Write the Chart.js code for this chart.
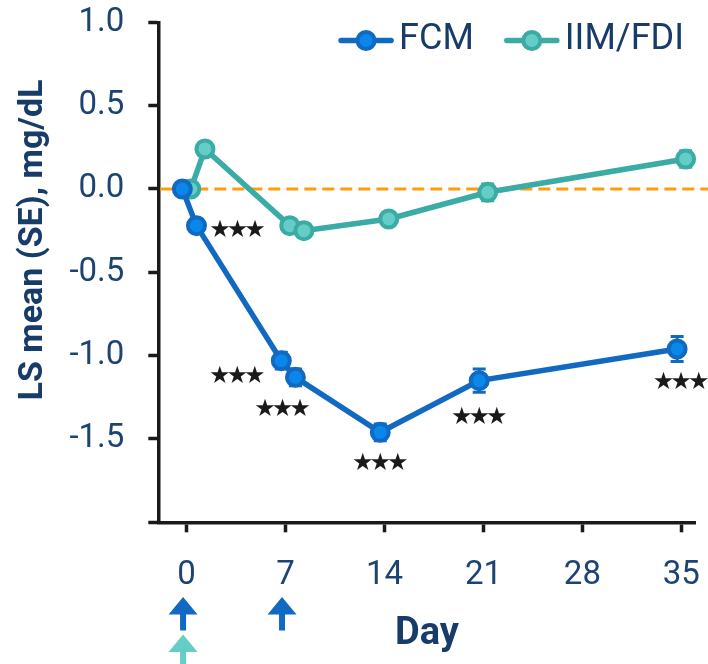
<!DOCTYPE html>
<html>
<head>
<meta charset="utf-8">
<script src="https://cdn.jsdelivr.net/npm/chart.js@4.4.1/dist/chart.umd.min.js"></script>
<style>
  html, body { margin: 0; padding: 0; background: #ffffff; }
  #wrap { width: 708px; height: 664px; }
</style>
</head>
<body>
<div id="wrap"><canvas id="c" width="708" height="664"></canvas></div>
<script>
// Study visit days and least-squares mean change (SE) per treatment arm
const days = [0, 1, 7, 8, 14, 21, 35];
const fcmMean = [0.00, -0.22, -1.03, -1.13, -1.46, -1.15, -0.96];
const fcmSE   = [0.00, 0.04, 0.05, 0.05, 0.05, 0.07, 0.075];
const iimMean = [0.00, 0.24, -0.22, -0.25, -0.18, -0.02, 0.18];
const iimSE   = [0.00, 0.04, 0.04, 0.04, 0.04, 0.05, 0.05];
const fcmSignif = ['', '★★★', '★★★', '★★★', '★★★', '★★★', '★★★'];
const seriesNames = ['FCM', 'IIM/FDI'];
const xTickValues = [0, 7, 14, 21, 28, 35];
const yTickValues = [-2, -1.5, -1, -0.5, 0, 0.5, 1];
const fcmDoseDays = [0, 7];
const iimDoseDays = [0];
const yTitle = 'LS mean (SE), mg/dL';
const xTitle = 'Day';

const NAVY = '#1d4373';
const NAVY_DARK = '#183c69';
const AXIS = '#1a1a1a';
const FCM_LINE = '#1169c2';
const FCM_FILL = '#0a87ea';
const IIM_LINE = '#3aaba5';
const IIM_FILL = '#64cdc5';
const DODGE = 0.3;   // horizontal offset (days) so the two arms do not overlap

// placement of the significance marks relative to each FCM point (px)
const signifOffset = [null, [41, 5], [-44, 16], [-13, 32], [0, 31], [0, 37], [4, 34]];

function toPoints(means, shift) {
  return days.map((d, i) => ({ x: d + shift, y: means[i] }));
}

const decorations = {
  id: 'decorations',
  beforeDatasetsDraw(chart) {
    const { ctx, chartArea, scales: { x, y } } = chart;
    // dashed zero reference line
    const y0 = y.getPixelForValue(0);
    ctx.save();
    ctx.strokeStyle = '#ff9c0a';
    ctx.lineWidth = 3;
    ctx.setLineDash([12, 6]);
    ctx.beginPath();
    ctx.moveTo(chartArea.left + 2, y0);
    ctx.lineTo(chart.width, y0);
    ctx.stroke();
    ctx.restore();

    // standard-error bars
    chart.data.datasets.forEach((ds, i) => {
      const meta = chart.getDatasetMeta(i);
      ds.se.forEach((s, j) => {
        if (!s) return;
        const px = meta.data[j].x;
        const v = ds.data[j].y;
        const top = y.getPixelForValue(v + s);
        const bot = y.getPixelForValue(v - s);
        ctx.save();
        ctx.strokeStyle = ds.borderColor;
        ctx.lineWidth = 3;
        ctx.beginPath();
        ctx.moveTo(px, top); ctx.lineTo(px, bot);
        ctx.moveTo(px - 6.5, top); ctx.lineTo(px + 6.5, top);
        ctx.moveTo(px - 6.5, bot); ctx.lineTo(px + 6.5, bot);
        ctx.stroke();
        ctx.restore();
      });
    });
  },
  afterDatasetsDraw(chart) {
    const { ctx } = chart;
    const meta = chart.getDatasetMeta(0);
    ctx.save();
    ctx.fillStyle = '#1a1a1a';
    ctx.font = '24px "DejaVu Sans"';
    ctx.letterSpacing = '-4px';
    ctx.textAlign = 'center';
    ctx.textBaseline = 'middle';
    fcmSignif.forEach((txt, j) => {
      if (!txt) return;
      const p = meta.data[j];
      const off = signifOffset[j];
      ctx.fillText(txt, p.x + off[0] - 2, p.y + off[1]);
    });
    ctx.restore();
  },
  afterDraw(chart) {
    const { ctx, scales: { x } } = chart;
    ctx.save();

    // legend: line + marker sample followed by the series name
    ctx.font = '36px Roboto';
    ctx.textBaseline = 'middle';
    ctx.textAlign = 'left';
    const sampleW = 56, gap = 5, itemGap = 30;
    const widths = seriesNames.map(n => ctx.measureText(n).width);
    let total = 0;
    widths.forEach((w, i) => { total += sampleW + gap + w + (i ? itemGap : 0); });
    let cx = 684 - total;
    const ly = 40.5;
    chart.data.datasets.forEach((ds, i) => {
      if (i) cx += itemGap;
      ctx.strokeStyle = ds.borderColor;
      ctx.lineWidth = 5.5;
      ctx.lineCap = 'round';
      ctx.beginPath();
      ctx.moveTo(cx + 3, ly); ctx.lineTo(cx + sampleW - 3, ly);
      ctx.stroke();
      ctx.beginPath();
      ctx.arc(cx + sampleW / 2, ly, 8.5, 0, Math.PI * 2);
      ctx.fillStyle = ds.pointBackgroundColor;
      ctx.fill();
      ctx.lineWidth = 4;
      ctx.strokeStyle = ds.pointBorderColor;
      ctx.stroke();
      cx += sampleW + gap;
      ctx.fillStyle = NAVY_DARK;
      ctx.fillText(seriesNames[i], cx, ly - 1);
      cx += widths[i];
    });

    // vertical axis title
    ctx.save();
    ctx.translate(33, 240);
    ctx.rotate(-Math.PI / 2);
    ctx.font = 'bold 34px Roboto';
    ctx.fillStyle = NAVY_DARK;
    ctx.textAlign = 'center';
    ctx.textBaseline = 'middle';
    ctx.fillText(yTitle, 0, 0);
    ctx.restore();

    // dosing arrows under the day axis
    function arrow(px, tipY, color) {
      ctx.fillStyle = color;
      ctx.beginPath();
      ctx.moveTo(px, tipY);
      ctx.lineTo(px + 14.5, tipY + 17.5);
      ctx.lineTo(px + 3, tipY + 17.5);
      ctx.lineTo(px + 3, tipY + 33.5);
      ctx.lineTo(px - 3, tipY + 33.5);
      ctx.lineTo(px - 3, tipY + 17.5);
      ctx.lineTo(px - 14.5, tipY + 17.5);
      ctx.closePath();
      ctx.fill();
    }
    fcmDoseDays.forEach(d => arrow(x.getPixelForValue(d) - 3.5, 597, FCM_LINE));
    iimDoseDays.forEach(d => arrow(x.getPixelForValue(d) - 3.5, 634.5, IIM_FILL));

    ctx.restore();
  }
};

const tickFont = { family: 'Roboto', size: 33 };

new Chart(document.getElementById('c'), {
  type: 'line',
  data: {
    datasets: [
      {
        label: seriesNames[0],
        data: toPoints(fcmMean, -DODGE),
        se: fcmSE,
        borderColor: FCM_LINE,
        borderWidth: 5.5,
        pointBackgroundColor: FCM_FILL,
        pointBorderColor: FCM_LINE,
        pointBorderWidth: 4,
        pointRadius: 8.5,
        tension: 0,
        clip: false
      },
      {
        label: seriesNames[1],
        data: toPoints(iimMean, DODGE),
        se: iimSE,
        borderColor: IIM_LINE,
        borderWidth: 5.5,
        pointBackgroundColor: IIM_FILL,
        pointBorderColor: IIM_LINE,
        pointBorderWidth: 4,
        pointRadius: 8.5,
        tension: 0,
        clip: false
      }
    ]
  },
  options: {
    responsive: false,
    animation: false,
    devicePixelRatio: 1,
    layout: { padding: { top: 22.3, right: 9.7, left: 0, bottom: 0 } },
    plugins: { legend: { display: false }, tooltip: { enabled: false } },
    scales: {
      x: {
        type: 'linear',
        min: -2,
        max: 36,
        afterBuildTicks: s => { s.ticks = xTickValues.map(v => ({ value: v })); },
        afterFit: s => { s.height = 141.7; s.paddingLeft = 0; s.paddingRight = 0; },
        grid: { drawOnChartArea: false, tickLength: 10, tickWidth: 3.5, tickColor: AXIS },
        border: { width: 3.5, color: AXIS },
        ticks: { color: NAVY, font: tickFont, padding: 24, maxRotation: 0, autoSkip: false },
        title: {
          display: true, text: xTitle, color: NAVY_DARK,
          font: { family: 'Roboto', size: 38, weight: 'bold' },
          padding: { top: 0, bottom: 7 }
        }
      },
      y: {
        type: 'linear',
        min: -2,
        max: 1,
        afterBuildTicks: s => { s.ticks = yTickValues.map(v => ({ value: v })); },
        afterFit: s => { s.width = 158.3; s.paddingTop = 0; s.paddingBottom = 0; },
        grid: { drawOnChartArea: false, tickLength: 10, tickWidth: 3.5, tickColor: AXIS },
        border: { width: 3.5, color: AXIS },
        ticks: {
          color: NAVY, font: tickFont, padding: 24, autoSkip: false,
          callback: v => (v === -2 ? '' : Number(v).toFixed(1))
        }
      }
    }
  },
  plugins: [decorations]
});
</script>
</body>
</html>
